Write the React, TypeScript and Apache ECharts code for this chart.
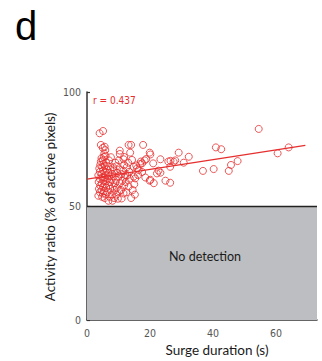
import React, { useEffect, useRef } from 'react';
import * as echarts from 'echarts';

// Surge duration (s) of each event
const surgeDuration = [
  // dense cluster
  3.6, 4.1, 3.8, 4.2, 3.7, 4.0, 3.6, 4.1, 3.9, 4.2, 4.4, 4.6,
  4.8, 5.0, 4.6, 5.1, 4.7, 5.2, 4.9, 4.6, 5.1, 4.8, 5.2, 5.0, 5.3, 5.5, 5.8,
  5.6, 6.0, 5.4, 6.1, 5.7, 6.2, 5.5, 6.0, 5.8, 6.3, 5.6, 6.1, 5.9,
  6.8, 7.2, 6.5, 7.4, 6.9, 7.3, 6.6, 7.1, 6.8, 7.4, 6.7, 7.0,
  8.1, 8.6, 7.9, 8.8, 8.2, 8.9, 7.8, 8.5, 8.0, 8.7, 8.3, 9.0, 7.6,
  9.8, 9.3, 10.2, 9.5, 10.4, 9.2, 10.0, 9.6, 10.3, 9.4, 10.1,
  11.0, 11.6, 10.8, 11.8, 11.2, 11.9, 10.9, 11.5, 11.8, 11.6,
  12.5, 13.2, 12.3, 13.6, 12.8, 13.4, 12.6, 13.1,
  // outer points
  4.0, 5.1, 4.4, 5.0, 5.6,
  10.4, 10.4, 11.8, 13.2, 14.0, 13.7, 14.3, 14.8, 15.9, 15.6, 14.8, 15.3, 15.0, 14.5, 15.2, 14.0, 12.2,
  16.4, 16.9, 17.5, 17.1, 17.5, 17.8, 18.3, 18.8, 19.9, 20.1, 16.2, 18.5,
  19.9, 20.1, 21.2, 21.0, 22.7, 22.2, 23.3, 23.3, 24.9, 26.4, 25.8, 26.5, 27.5, 26.4, 28.0,
  29.1, 30.7, 32.3, 36.8, 40.2, 40.9, 42.6, 45.0, 45.7, 47.8, 54.5, 60.5, 64.0,
];

// Activity ratio (% of active pixels) of each event
const activityRatio = [
  54.5, 56, 57.5, 59, 60.5, 62, 63.5, 65, 66.5, 68, 69.5, 71,
  54, 55.5, 57, 58.5, 60, 61, 62.5, 64, 65.5, 67, 68.5, 70, 71.5, 73, 74.5,
  53.5, 55, 56.5, 58, 59.5, 61, 62.5, 63.5, 65, 66, 67.5, 69, 72,
  52.3, 54, 56, 57.5, 59, 60.5, 62, 63, 64.5, 66, 67.5, 70,
  52.3, 53.5, 55, 57, 58.5, 60, 61.5, 63, 64, 65.5, 67, 69, 71.4,
  53.2, 55, 56.5, 58, 60, 61.5, 63, 64.5, 66, 67.5, 70,
  53.3, 55.5, 57, 59, 61, 62.5, 64, 65.5, 68, 70.5,
  56, 58.5, 60.5, 62, 63.5, 65, 67, 69,
  81.9, 82.9, 76.8, 75.5, 76,
  74.3, 72.8, 71.5, 76.8, 76.8, 73.4, 70.2, 67.2, 66.5, 67.8, 62.9, 62.1, 59.5, 57, 55, 53.5, 63.6,
  65.8, 68.4, 68.7, 69.5, 64.9, 76.8, 70, 70.6, 73.4, 72.6, 63.6, 62.5,
  61.1, 61.5, 60, 68.7, 65.5, 64.3, 64.6, 70.5, 61.1, 60.2, 69.5, 69.8, 69.4, 67.2, 70,
  73.4, 69, 71.6, 65.4, 66.2, 75.7, 74.9, 65.4, 68, 69.7, 83.8, 73.1, 75.7,
];

// Regression line end points
const fitX = [0, 69.3];
const fitY = [61.8, 76.6];

const xTicks = [0, 20, 40, 60];
const yTicks = [0, 50, 100];
const xMax = 73;
const detectionThreshold = 50;
const rText = 'r = 0.437';
const noDetectionText = 'No detection';
const panelLetter = 'd';
const xTitle = 'Surge duration (s)';
const yTitle = 'Activity ratio (% of active pixels)';

const RED = '#e62e2e';
const AXIS = '#333333';
const TICKFONT = 'DejaVu Sans Condensed';
const TITLEFONT = 'Lato';

export default function App() {
  const ref = useRef<HTMLDivElement>(null);
  useEffect(() => {
    if (!ref.current) return;
    const chart = echarts.init(ref.current, undefined, { renderer: 'svg' });
    const points = surgeDuration.map((x, i) => [x, activityRatio[i]]);
    const fit = fitX.map((x, i) => [x, fitY[i]]);
    chart.setOption({
      animation: false,
      grid: { left: 87, right: 5, top: 92, bottom: 41 },
      xAxis: {
        type: 'value',
        min: 0,
        max: xMax,
        interval: 20,
        splitLine: { show: false },
        axisLine: { show: true, lineStyle: { color: AXIS, width: 1.5 } },
        axisTick: { show: true, inside: true, length: 3, customValues: xTicks, lineStyle: { color: AXIS, width: 1.2 } },
        axisLabel: {
          customValues: xTicks,
          margin: 7,
          fontFamily: TICKFONT,
          fontSize: 10.5,
          color: '#555',
        },
      },
      yAxis: {
        type: 'value',
        min: 0,
        max: 100,
        interval: 50,
        splitLine: { show: false },
        axisLine: { show: true, lineStyle: { color: AXIS, width: 1.5 } },
        axisTick: { show: true, inside: true, length: 3, customValues: yTicks, lineStyle: { color: AXIS, width: 1.2 } },
        axisLabel: {
          customValues: yTicks,
          margin: 6,
          fontFamily: TICKFONT,
          fontSize: 10.5,
          color: '#555',
        },
      },
      series: [
        {
          type: 'line',
          data: fit,
          symbol: 'none',
          lineStyle: { color: RED, width: 1.2 },
          z: 3,
          markArea: {
            silent: true,
            itemStyle: { color: '#bdbec1' },
            label: {
              show: true,
              position: 'inside',
              offset: [3, -7],
              fontFamily: TITLEFONT,
              fontSize: 12.5,
              color: '#1a1a1a',
            },
            data: [[{ coord: [0, 0], name: noDetectionText }, { coord: [xMax, detectionThreshold] }]],
          },
          markLine: {
            silent: true,
            symbol: 'none',
            label: { show: false },
            lineStyle: { color: '#222', width: 1.3, type: 'solid' },
            data: [{ yAxis: detectionThreshold }],
          },
        },
        {
          type: 'scatter',
          data: points,
          symbol: 'circle',
          symbolSize: 7,
          itemStyle: { color: 'rgba(255,255,255,0)', borderColor: RED, borderWidth: 1 },
          z: 4,
        },
      ],
      graphic: [
        {
          type: 'text',
          left: 15,
          top: 6,
          style: { text: panelLetter, fontFamily: 'Liberation Sans', fontSize: 40, fill: '#000' },
        },
        {
          type: 'text',
          x: 93,
          y: 100,
          style: { text: rText, fontFamily: TICKFONT, fontSize: 10, fill: RED, verticalAlign: 'middle' },
        },
        {
          type: 'text',
          x: 217,
          y: 350,
          style: { text: xTitle, fontFamily: TITLEFONT, fontSize: 13.5, fill: '#1a1a1a', align: 'center', verticalAlign: 'middle' },
        },
        {
          type: 'text',
          x: 50,
          y: 207,
          rotation: Math.PI / 2,
          style: { text: yTitle, fontFamily: TITLEFONT, fontSize: 13.5, fill: '#1a1a1a', align: 'center', verticalAlign: 'middle' },
        },
      ],
    });
    return () => chart.dispose();
  }, []);
  return <div ref={ref} style={{ position: 'absolute', left: 0, top: 0, width: 322, height: 361 }} />;
}
